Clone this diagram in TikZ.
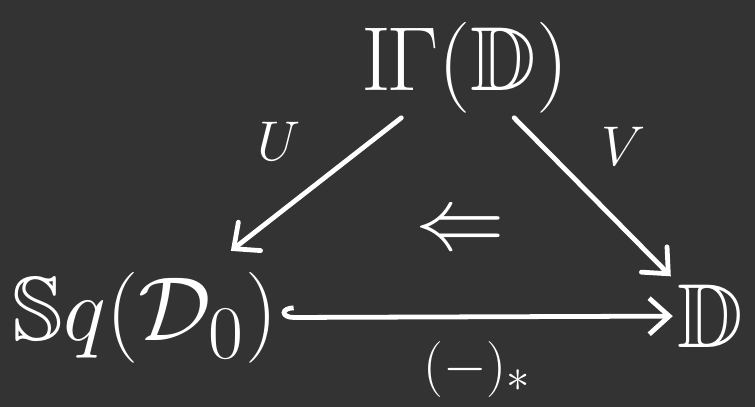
\documentclass[tikz,border=0pt]{standalone}
\usepackage{amsmath}
\usepackage{amssymb}
\usetikzlibrary{arrows.meta}
\definecolor{boardgray}{HTML}{333333}
\definecolor{chalk}{HTML}{FFFFFF}
\newcommand{\dsGamma}{\mathord{\mathrm{I}\mkern-1mu\Gamma}}

\begin{document}
\begin{tikzpicture}[
    x=0.025cm, y=-0.025cm,
    obj/.style={text=chalk, inner sep=1pt, font=\Huge, scale=2.6, transform shape},
    mor/.style={-{Straight Barb[length=5mm,width=9mm,line cap=round]}, line width=3.4pt, chalk, line cap=round},
    lbl/.style={text=chalk, font=\Huge, scale=1.6, transform shape}
  ]
  % Board
  \fill[boardgray] (0,0) rectangle (755,407);
  \useasboundingbox (0,0) rectangle (755,407);

  % Objects
  \node[obj] (gam) at (465,68) {$\dsGamma(\mathbb{D})$};
  \node[obj] (sq)  at (145,318) {$\mathbb{S}q(\mathcal{D}_0)$};
  \node[obj] (dd)  at (710,316) {$\mathbb{D}$};

  % Morphisms
  \draw[mor, shorten >=20pt] (gam) -- (sq) node[lbl, pos=0.42, above left=4pt] {$U$};
  \draw[mor, shorten >=4pt] (gam) -- (dd) node[lbl, pos=0.42, above right=4pt] {$V$};
  \draw[mor, {Hooks[right,length=3mm,width=6mm]}-{Straight Barb[length=5mm,width=9mm]}] (sq) -- (dd)
    node[lbl, midway, below=6pt] {$(-)_*$};

  % 2-cell
  \node[lbl, scale=1.6] (cell) at (460,233) {$\Leftarrow$};
\end{tikzpicture}
\end{document}
